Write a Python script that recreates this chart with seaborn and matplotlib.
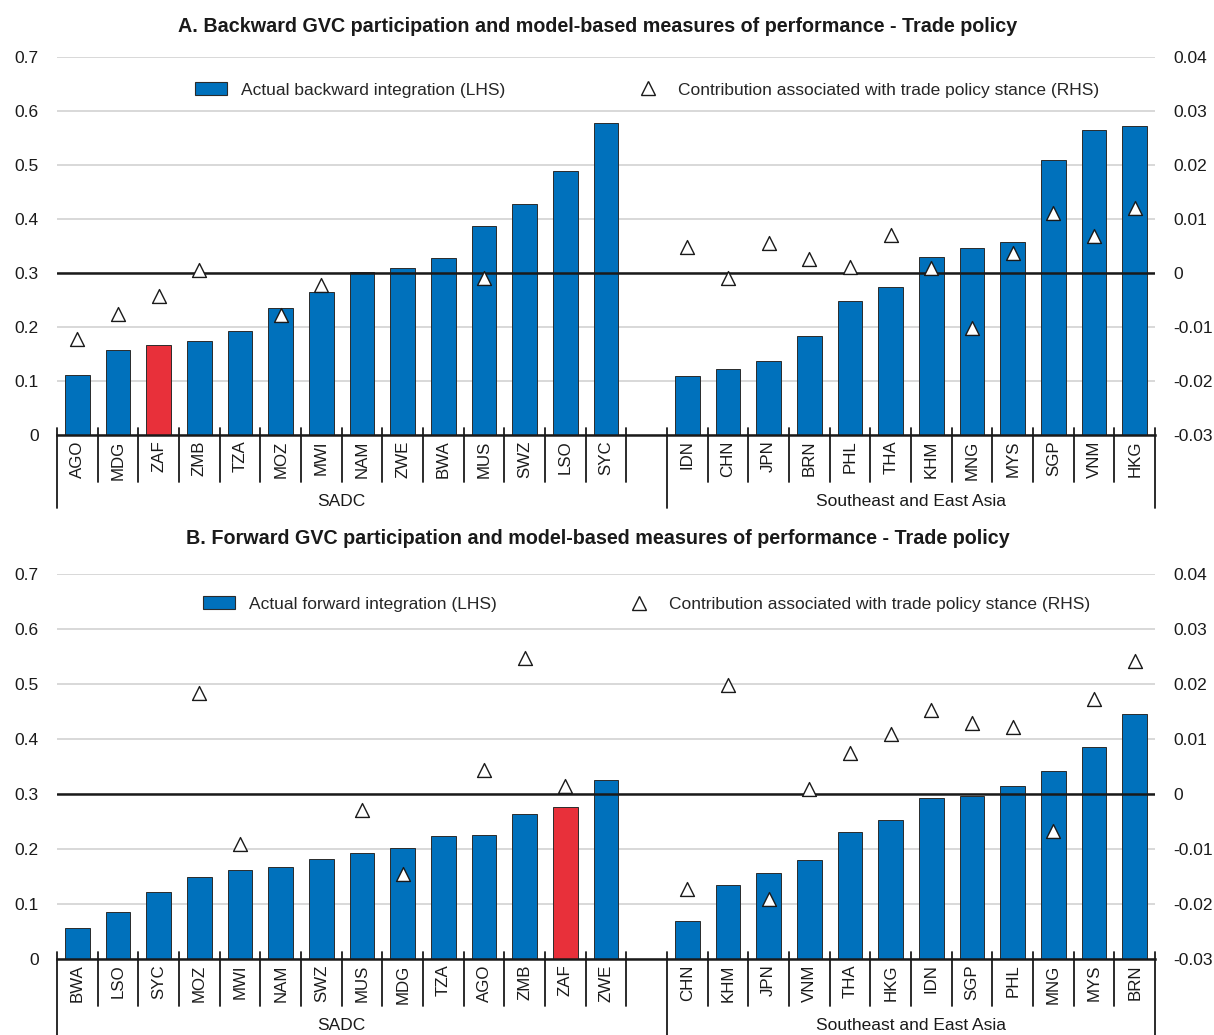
import numpy as np
import pandas as pd
import matplotlib
matplotlib.use("Agg")
import matplotlib.pyplot as plt
import matplotlib.transforms as mtransforms
from matplotlib.patches import Patch
from matplotlib.lines import Line2D
import seaborn as sns

nan = np.nan

# Panel A - backward participation
a_sadc = ["AGO", "MDG", "ZAF", "ZMB", "TZA", "MOZ", "MWI", "NAM", "ZWE", "BWA", "MUS", "SWZ", "LSO", "SYC"]
a_sadc_lhs = [0.111, 0.158, 0.166, 0.175, 0.192, 0.235, 0.264, 0.302, 0.309, 0.327, 0.387, 0.428, 0.488, 0.577]
a_sadc_rhs = [-0.0123, -0.0075, -0.0043, 0.0006, nan, -0.0077, -0.0022, nan, nan, nan, -0.0009, nan, nan, nan]
a_asia = ["IDN", "CHN", "JPN", "BRN", "PHL", "THA", "KHM", "MNG", "MYS", "SGP", "VNM", "HKG"]
a_asia_lhs = [0.110, 0.122, 0.137, 0.183, 0.248, 0.274, 0.329, 0.347, 0.358, 0.510, 0.564, 0.572]
a_asia_rhs = [0.0049, -0.0009, 0.0056, 0.0026, 0.0011, 0.0071, 0.0009, -0.0101, 0.0037, 0.0112, 0.0069, 0.0120]

# Panel B - forward participation
b_sadc = ["BWA", "LSO", "SYC", "MOZ", "MWI", "NAM", "SWZ", "MUS", "MDG", "TZA", "AGO", "ZMB", "ZAF", "ZWE"]
b_sadc_lhs = [0.056, 0.085, 0.121, 0.149, 0.162, 0.167, 0.182, 0.193, 0.202, 0.223, 0.225, 0.263, 0.277, 0.326]
b_sadc_rhs = [nan, nan, nan, 0.0183, -0.0090, nan, nan, -0.0029, -0.0146, nan, 0.0043, 0.0248, 0.0014, nan]
b_asia = ["CHN", "KHM", "JPN", "VNM", "THA", "HKG", "IDN", "SGP", "PHL", "MNG", "MYS", "BRN"]
b_asia_lhs = [0.070, 0.135, 0.156, 0.180, 0.231, 0.253, 0.293, 0.296, 0.314, 0.342, 0.385, 0.445]
b_asia_rhs = [-0.0172, 0.0198, -0.0191, 0.0010, 0.0075, 0.0109, 0.0152, 0.0129, 0.0121, -0.0067, 0.0172, 0.0241]

lhs_ticks = [0, 0.1, 0.2, 0.3, 0.4, 0.5, 0.6, 0.7]
lhs_labels = ["0", "0.1", "0.2", "0.3", "0.4", "0.5", "0.6", "0.7"]
rhs_ticks = [-0.03, -0.02, -0.01, 0, 0.01, 0.02, 0.03, 0.04]
rhs_labels = ["-0.03", "-0.02", "-0.01", "0", "0.01", "0.02", "0.03", "0.04"]

BLUE = "#0071bc"
RED = "#e8303a"
DARK = "#1a1a1a"
W, H = 1214, 1035

sns.set_theme(style="white")
plt.rcParams["font.family"] = ["Liberation Sans", "DejaVu Sans"]


def panel(ax, sadc, sadc_lhs, sadc_rhs, asia, asia_lhs, asia_rhs, bar_label, long_px, leg_y):
    order = sadc + [" "] + asia
    df = pd.DataFrame({"country": sadc + asia,
                       "lhs": sadc_lhs + asia_lhs,
                       "rhs": sadc_rhs + asia_rhs})
    df["pos"] = [order.index(c) for c in df["country"]]
    df["kind"] = np.where(df["country"] == "ZAF", "zaf", "other")

    sns.barplot(data=df, x="country", y="lhs", order=order, hue="kind",
                palette={"zaf": RED, "other": BLUE}, dodge=False, width=0.6,
                saturation=1, edgecolor="#2b2b2b", linewidth=0.7, legend=False, ax=ax)
    ax.set_ylim(0, 0.7)
    ax.set_yticks(lhs_ticks)
    ax.set_yticklabels(lhs_labels)
    ax.grid(axis="y", color="#d6d6d6", lw=1.3)
    ax.set_axisbelow(True)
    ax.axhline(0.3, color=DARK, lw=1.8, zorder=4)
    ax.set_xlabel("")
    ax.set_ylabel("")
    ax.tick_params(axis="x", length=0, pad=4, labelsize=12.2, labelrotation=90, colors=DARK)
    ax.tick_params(axis="y", length=0, pad=13, labelsize=12.5, colors=DARK)
    for s in ["left", "right", "top"]:
        ax.spines[s].set_visible(False)
    ax.spines["bottom"].set_color(DARK)
    ax.spines["bottom"].set_linewidth(1.8)

    axr = ax.twinx()
    sns.scatterplot(data=df.dropna(subset=["rhs"]), x="pos", y="rhs", marker="^", s=100,
                    color="white", edgecolor=DARK, linewidth=1.0, ax=axr, zorder=5)
    axr.set_ylim(-0.03, 0.04)
    axr.set_yticks(rhs_ticks)
    axr.set_yticklabels(rhs_labels)
    axr.set_ylabel("")
    axr.tick_params(axis="y", length=0, pad=13, labelsize=12.5, colors=DARK)
    for s in axr.spines.values():
        s.set_visible(False)
    ax.set_xlim(-0.5, len(order) - 0.5)

    # category separators and group brackets under the axis
    h = ax.get_position().height * H
    trans = mtransforms.blended_transform_factory(ax.transData, ax.transAxes)
    for b in np.arange(-0.5, len(order)):
        is_long = b in (-0.5, len(sadc) + 0.5, len(order) - 0.5)
        y1 = -(long_px if is_long else 47) / h
        ax.plot([b, b], [7 / h, y1], transform=trans, color=DARK, lw=1.3, clip_on=False)
    ax.text((len(sadc) - 1) / 2, -66 / h, "SADC", transform=trans,
            ha="center", va="center", fontsize=12.5, color=DARK)
    ax.text((len(sadc) + 1 + len(order) - 1) / 2, -66 / h, "Southeast and East Asia",
            transform=trans, ha="center", va="center", fontsize=12.5, color=DARK)

    handles = [Patch(facecolor=BLUE, edgecolor="#2b2b2b", lw=0.8, label=bar_label),
               Line2D([], [], marker="^", ls="", ms=10, mfc="white", mec=DARK, mew=1.0,
                      label="Contribution associated with trade policy stance (RHS)")]
    axr.legend(handles=handles, loc="center", bbox_to_anchor=(0.537, leg_y), ncol=2,
               frameon=False, fontsize=12.5, columnspacing=7.3, handlelength=1.85,
               handleheight=0.8, handletextpad=0.8)


fig = plt.figure(figsize=(W / 100, H / 100), dpi=100)
ax_a = fig.add_axes([57 / W, 1 - 435 / H, 1098 / W, 378 / H])
ax_b = fig.add_axes([57 / W, 1 - 959 / H, 1098 / W, 385 / H])

panel(ax_a, a_sadc, a_sadc_lhs, a_sadc_rhs, a_asia, a_asia_lhs, a_asia_rhs,
      "Actual backward integration (LHS)", 73, 0.913)
panel(ax_b, b_sadc, b_sadc_lhs, b_sadc_rhs, b_asia, b_asia_lhs, b_asia_rhs,
      "Actual forward integration (LHS)", 80, 0.922)

fig.text(598 / W, 1 - 27 / H,
         "A. Backward GVC participation and model-based measures of performance - Trade policy",
         ha="center", va="center", fontsize=14.2, fontweight="bold", color=DARK)
fig.text(598 / W, 1 - 539 / H,
         "B. Forward GVC participation and model-based measures of performance - Trade policy",
         ha="center", va="center", fontsize=14.2, fontweight="bold", color=DARK)

fig.savefig("out.png", dpi=100)
